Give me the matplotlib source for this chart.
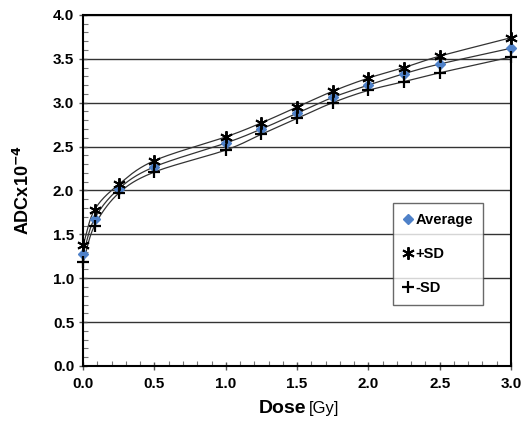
import numpy as np
import matplotlib
matplotlib.use("Agg")
from matplotlib import pyplot as plt
from matplotlib.ticker import MultipleLocator, FormatStrFormatter

plt.rcParams['font.family'] = ['Liberation Sans', 'DejaVu Sans']

dose = [0.0, 0.08, 0.25, 0.5, 1.0, 1.25, 1.5, 1.75, 2.0, 2.25, 2.5, 3.0]
avg = [1.28, 1.68, 2.02, 2.27, 2.54, 2.70, 2.88, 3.06, 3.20, 3.33, 3.44, 3.62]
plus_sd = [1.38, 1.78, 2.07, 2.34, 2.61, 2.77, 2.95, 3.13, 3.28, 3.40, 3.53, 3.74]
minus_sd = [1.18, 1.60, 1.97, 2.21, 2.46, 2.64, 2.82, 3.00, 3.14, 3.24, 3.34, 3.52]


def smooth(x, y, n=30):
    # Catmull-Rom style smoothing like Excel's smoothed lines
    x = np.asarray(x, float)
    y = np.asarray(y, float)
    px = np.concatenate([[2 * x[0] - x[1]], x, [2 * x[-1] - x[-2]]])
    py = np.concatenate([[2 * y[0] - y[1]], y, [2 * y[-1] - y[-2]]])
    xs, ys = [], []
    t = np.linspace(0, 1, n)
    for i in range(1, len(px) - 2):
        p0, p1, p2, p3 = [np.array([px[j], py[j]]) for j in range(i - 1, i + 3)]
        c1 = p1 + (p2 - p0) / 6.0
        c2 = p2 - (p3 - p1) / 6.0
        b = ((1 - t) ** 3)[:, None] * p1 + (3 * (1 - t) ** 2 * t)[:, None] * c1 \
            + (3 * (1 - t) * t ** 2)[:, None] * c2 + (t ** 3)[:, None] * p2
        xs.extend(b[:, 0])
        ys.extend(b[:, 1])
    return xs, ys


fig = plt.figure(figsize=(5.3, 4.26), dpi=100)
ax = fig.add_axes([0.157, 0.141, 0.807, 0.824])

for ser in (plus_sd, avg, minus_sd):
    sx, sy = smooth(dose, ser)
    ax.plot(sx, sy, color='#333333', lw=0.9, zorder=3)

ax.plot(dose, avg, 'D', color='#4F81C8', ms=5.5, ls='none', label='Average', zorder=4, clip_on=False)
ax.plot(dose, plus_sd, marker=(6, 2, 0), color='black', ms=9, mew=1.4, ls='none', label='+SD',
        zorder=5, clip_on=False)
ax.plot(dose, minus_sd, '+', color='black', ms=9, mew=1.6, ls='none', label='-SD',
        zorder=5, clip_on=False)

ax.set_xlim(0, 3.0)
ax.set_ylim(0, 4.0)
ax.xaxis.set_major_locator(MultipleLocator(0.5))
ax.xaxis.set_minor_locator(MultipleLocator(0.1))
ax.yaxis.set_major_locator(MultipleLocator(0.5))
ax.yaxis.set_minor_locator(MultipleLocator(0.1))
ax.xaxis.set_major_formatter(FormatStrFormatter('%.1f'))
ax.yaxis.set_major_formatter(FormatStrFormatter('%.1f'))
ax.yaxis.grid(True, which='major', color='#333333', lw=1.0)
ax.set_axisbelow(True)
ax.tick_params(which='major', direction='inout', length=6, width=1, colors='#555555',
               labelcolor='black', labelsize=11)
ax.tick_params(which='minor', direction='in', length=3.5, width=0.8, colors='#777777')
ax.tick_params(axis='x', pad=5)
for lab in ax.get_xticklabels() + ax.get_yticklabels():
    lab.set_fontweight('bold')
for s in ax.spines.values():
    s.set_linewidth(1.5)
    s.set_color('black')

ax.set_ylabel(r'ADCx10$^{\mathbf{-4}}$', fontsize=13, fontweight='bold', labelpad=14)
fig.text(0.578, 0.03, 'Dose', fontsize=14, fontweight='bold', ha='right', va='baseline')
fig.text(0.582, 0.03, '[Gy]', fontsize=12, ha='left', va='baseline')

leg = ax.legend(loc='upper left', bbox_to_anchor=(0.725, 0.18, 0.21, 0.284), mode='expand',
                frameon=True, fancybox=False, edgecolor='#444444', fontsize=10.5,
                handlelength=0.6, handletextpad=0.2, borderpad=0.7, labelspacing=1.35,
                borderaxespad=0)
leg.get_frame().set_linewidth(1.0)
for t in leg.get_texts():
    t.set_fontweight('bold')

fig.savefig('out.png', dpi=100)
